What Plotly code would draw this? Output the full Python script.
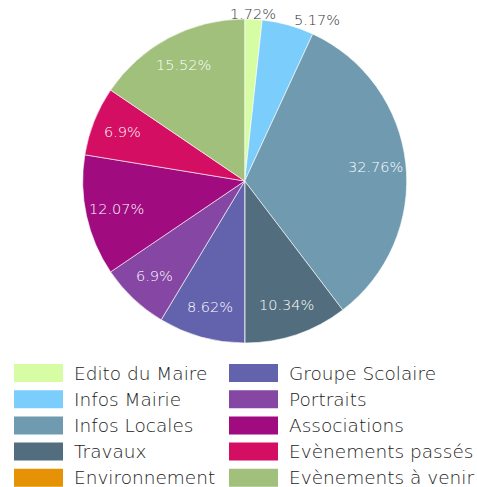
import math
import plotly.graph_objects as go

# rubriques du bulletin
labels = ["Edito du Maire", "Infos Mairie", "Infos Locales", "Travaux", "Environnement",
          "Groupe Scolaire", "Portraits", "Associations", "Evènements passés", "Evènements à venir"]
counts = [1, 3, 19, 6, 0, 5, 4, 7, 4, 9]
colors = ["#d6fda3", "#7bcdfb", "#6f9aaf", "#526e7e", "#e69207",
          "#6362ad", "#8646a3", "#a00b7f", "#d40e63", "#a0c07b"]
outside = [True, True, False, False, False, False, False, False, False, False]

font = "'DejaVu Sans', sans-serif"

W, H = 477, 487
CX, CY, R = 244.7, 181, 162


def px(x):
    return x / W


def py(y):
    return 1 - y / H


fig = go.Figure()
fig.add_trace(go.Pie(
    labels=labels, values=counts, sort=False, direction="clockwise", rotation=0,
    marker=dict(colors=colors, line=dict(color="rgba(255,255,255,0.6)", width=1)),
    textinfo="none",
    domain=dict(x=[px(CX - R), px(CX + R)], y=[py(CY + R), py(CY - R)]),
    showlegend=False,
))

annots, shapes = [], []

# etiquettes en pourcentage, placees sur l'angle median de chaque part
total = sum(counts)
cum = 0
for v, o in zip(counts, outside):
    mid = (cum + v / 2) / total * 2 * math.pi
    cum += v
    if v == 0:
        continue
    txt = f"{v / total * 100:.2f}".rstrip("0").rstrip(".") + "%"
    if o:
        ex, ey = CX + R * math.sin(mid), CY - R * math.cos(mid)
        horiz = math.sin(mid) > 0.15
        annots.append(dict(
            text=txt, xref="paper", yref="paper", x=px(ex), y=py(ey),
            xanchor="left" if horiz else "center", yanchor="middle",
            xshift=4 if horiz else 0, yshift=5, showarrow=False,
            font=dict(size=14.5, color="#333333", family=font, weight=200)))
    else:
        rr = 0.81 * R
        annots.append(dict(
            text=txt, xref="paper", yref="paper",
            x=px(CX + rr * math.sin(mid)), y=py(CY - rr * math.cos(mid)),
            xanchor="center", yanchor="middle", showarrow=False,
            font=dict(size=14.5, color="white", family=font, weight=200)))

# legende sur 2 colonnes, remplie colonne par colonne
for i, (lab, col) in enumerate(zip(labels, colors)):
    c, r = divmod(i, 5)
    x0 = 14 + c * 215
    yc = 373 + r * 26.2
    shapes.append(dict(type="rect", xref="paper", yref="paper",
                       x0=px(x0), x1=px(x0 + 49), y0=py(yc + 9), y1=py(yc - 9),
                       fillcolor=col, line=dict(width=0)))
    annots.append(dict(text=lab, xref="paper", yref="paper", x=px(x0 + 58), y=py(yc),
                       xanchor="left", yanchor="middle", showarrow=False,
                       font=dict(size=18.5, color="#222222", family=font, weight=200)))

fig.update_layout(width=W, height=H, margin=dict(l=0, r=0, t=0, b=0),
                  paper_bgcolor="white", plot_bgcolor="white",
                  shapes=shapes, annotations=annots)

# pas de marge autour de la page, pas de barre d'outils
fig.write_html("out.html", config={"displayModeBar": False},
               post_script="document.body.style.margin='0';")
